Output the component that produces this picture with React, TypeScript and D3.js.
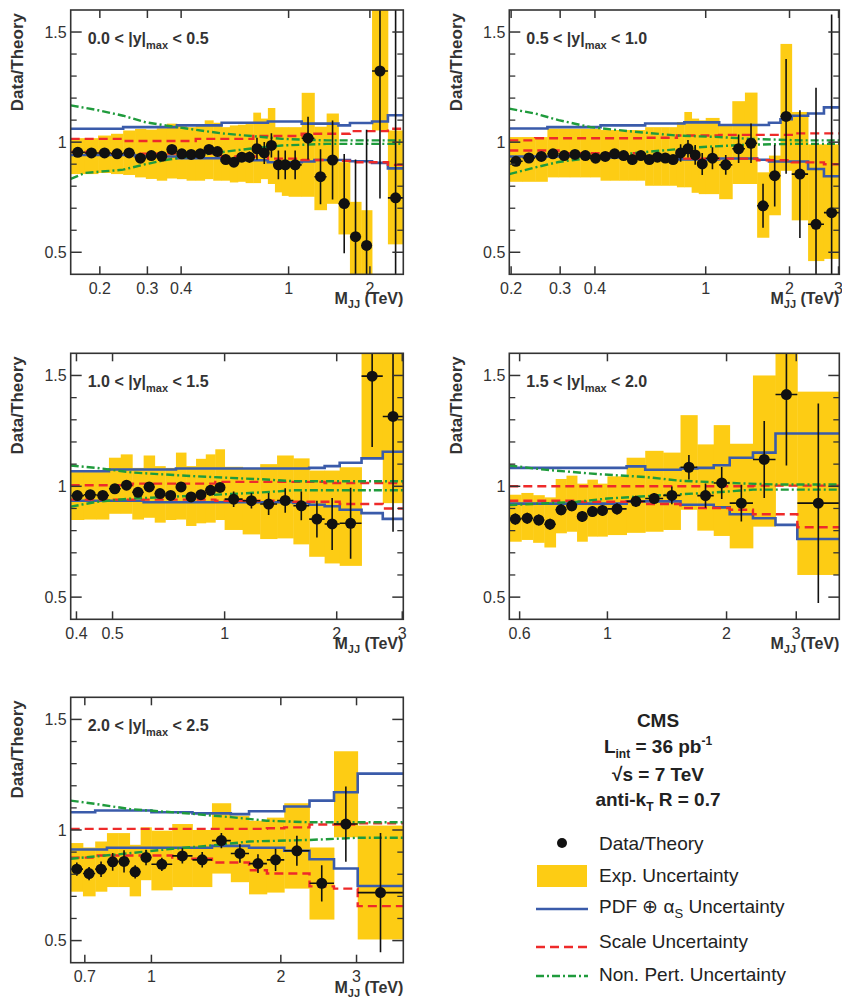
import React from "react";
import * as d3 from "d3";

type Knot = [number, number];

// ---------------- Panel 1: 0.0 < |y|max < 0.5 ----------------
const P1_edges = [0.156,0.176,0.197,0.220,0.244,0.270,0.296,0.325,0.354,0.386,0.419,0.453,0.489,0.526,0.565,0.606,0.649,0.693,0.740,0.788,0.838,0.890,0.944,1.000,1.118,1.246,1.383,1.530,1.687,1.856,2.037,2.332,2.659];
const P1_data = [0.954,0.951,0.951,0.947,0.951,0.927,0.939,0.936,0.967,0.947,0.944,0.947,0.967,0.957,0.921,0.909,0.932,0.932,0.970,0.951,0.985,0.897,0.897,0.897,1.018,0.843,0.919,0.721,0.571,0.531,1.323,0.747];
const P1_err = [0.01,0.01,0.01,0.01,0.01,0.01,0.01,0.01,0.012,0.012,0.012,0.015,0.015,0.015,0.018,0.02,0.02,0.025,0.05,0.05,0.055,0.065,0.065,0.065,0.097,0.125,0.179,0.225,0.35,0.525,0.579,0.9];
const P1_expLo = [0.855,0.855,0.86,0.855,0.851,0.84,0.833,0.825,0.835,0.832,0.825,0.825,0.832,0.825,0.825,0.817,0.82,0.814,0.814,0.832,0.81,0.772,0.756,0.752,0.752,0.691,0.72,0.581,0.35,0.35,1.053,0.536];
const P1_expHi = [1.018,1.018,1.03,1.038,1.053,1.06,1.057,1.063,1.084,1.076,1.068,1.078,1.099,1.088,1.068,1.076,1.079,1.082,1.134,1.107,1.155,1.068,1.068,1.068,1.224,1.07,1.13,0.909,0.729,0.691,1.7,1.053];
const P1_pdfHi: Knot[] = [[0.156,1.061],[0.244,1.068],[0.386,1.076],[0.565,1.088],[0.838,1.094],[1.118,1.084],[1.530,1.076],[1.687,1.087],[2.037,1.094],[2.332,1.122],[2.659,1.122]];
const P1_pdfLo: Knot[] = [[0.156,0.942],[0.270,0.935],[0.386,0.927],[0.565,0.918],[0.838,0.909],[1.118,0.912],[1.246,0.919],[1.687,0.913],[2.037,0.906],[2.332,0.881],[2.659,0.881]];
const P1_scaleHi: Knot[] = [[0.156,1.015],[0.244,1.005],[0.453,1.015],[0.740,1.028],[1.118,1.038],[1.687,1.05],[2.332,1.061],[2.659,1.061]];
const P1_scaleLo: Knot[] = [[0.156,0.955],[0.220,0.948],[0.565,0.935],[0.838,0.925],[1.118,0.919],[1.530,0.915],[1.687,0.909],[2.332,0.897],[2.659,0.897]];
const P1_npHi: Knot[] = [[0.156,1.167],[0.197,1.145],[0.244,1.12],[0.296,1.09],[0.354,1.075],[0.453,1.056],[0.565,1.04],[0.74,1.027],[0.944,1.015],[1.383,1.008],[2.659,1.008]];
const P1_npLo: Knot[] = [[0.156,0.833],[0.176,0.86],[0.244,0.875],[0.296,0.9],[0.354,0.92],[0.453,0.94],[0.565,0.955],[0.74,0.972],[0.944,0.985],[1.383,0.992],[2.659,0.992]];
const P1_ticks = [0.2,0.3,0.4,1,2];

// ---------------- Panel 2: 0.5 < |y|max < 1.0 ----------------
const P2_edges = [0.197,0.220,0.244,0.270,0.296,0.325,0.354,0.386,0.419,0.453,0.489,0.526,0.565,0.606,0.649,0.693,0.740,0.788,0.838,0.890,0.944,1.000,1.118,1.246,1.383,1.530,1.687,1.856,2.037,2.332,2.659,3.019];
const P2_data = [0.913,0.928,0.935,0.947,0.939,0.944,0.939,0.927,0.935,0.947,0.939,0.921,0.939,0.921,0.932,0.928,0.921,0.951,0.970,0.942,0.901,0.927,0.897,0.970,0.995,0.711,0.848,1.117,0.855,0.627,0.68];
const P2_err = [0.015,0.015,0.015,0.015,0.015,0.015,0.015,0.015,0.015,0.015,0.015,0.015,0.015,0.015,0.015,0.015,0.015,0.04,0.04,0.045,0.05,0.05,0.045,0.065,0.09,0.1,0.14,0.26,0.29,0.62,0.9];
const P2_expLo = [0.82,0.82,0.82,0.84,0.84,0.84,0.84,0.84,0.825,0.825,0.825,0.825,0.825,0.802,0.802,0.802,0.802,0.795,0.795,0.77,0.764,0.764,0.741,0.81,0.81,0.566,0.668,0.87,0.645,0.46,0.47];
const P2_expHi = [1.023,1.023,1.023,1.061,1.061,1.061,1.061,1.061,1.055,1.055,1.055,1.055,1.055,1.068,1.068,1.068,1.068,1.091,1.137,1.107,1.099,1.11,1.079,1.186,1.225,0.863,0.939,1.446,1.137,0.99,0.99];
const P2_pdfHi: Knot[] = [[0.197,1.062],[0.270,1.068],[0.419,1.076],[0.606,1.085],[0.838,1.09],[1.118,1.078],[1.687,1.088],[1.856,1.104],[2.037,1.12],[2.332,1.13],[2.659,1.158],[3.019,1.158]];
const P2_pdfLo: Knot[] = [[0.197,0.935],[0.386,0.93],[0.740,0.922],[1.118,0.926],[1.53,0.92],[1.687,0.912],[2.332,0.878],[2.659,0.845],[3.019,0.845]];
const P2_scaleHi: Knot[] = [[0.197,1.008],[0.244,1.018],[0.606,1.02],[0.788,1.03],[1.118,1.033],[2.037,1.04],[3.019,1.04]];
const P2_scaleLo: Knot[] = [[0.197,0.962],[0.296,0.95],[0.565,0.935],[0.838,0.925],[1.53,0.918],[2.037,0.908],[2.659,0.9],[3.019,0.9]];
const P2_npHi: Knot[] = [[0.197,1.152],[0.244,1.13],[0.296,1.1],[0.386,1.068],[0.526,1.05],[0.788,1.03],[1.118,1.023],[1.455,1.015],[2.2,1.008],[3.019,1.008]];
const P2_npLo: Knot[] = [[0.197,0.855],[0.244,0.885],[0.296,0.91],[0.419,0.935],[0.606,0.955],[0.944,0.977],[1.383,0.988],[2.037,0.992],[3.019,0.992]];
const P2_ticks = [0.2,0.3,0.4,1,2,3];

// ---------------- Panel 3: 1.0 < |y|max < 1.5 ----------------
const P3_edges = [0.386,0.419,0.453,0.489,0.526,0.565,0.606,0.649,0.693,0.740,0.788,0.838,0.890,0.944,1.000,1.118,1.246,1.383,1.530,1.687,1.856,2.037,2.332,2.659,3.019];
const P3_data = [0.958,0.962,0.959,0.989,1.005,0.973,0.997,0.967,0.959,0.997,0.952,0.962,0.982,0.995,0.942,0.935,0.92,0.936,0.912,0.852,0.83,0.833,1.497,1.315];
const P3_err = [0.02,0.02,0.02,0.02,0.02,0.02,0.02,0.02,0.02,0.02,0.02,0.02,0.02,0.02,0.035,0.035,0.05,0.055,0.065,0.083,0.117,0.16,0.32,0.52];
const P3_expLo = [0.848,0.85,0.85,0.876,0.876,0.85,0.858,0.836,0.848,0.85,0.821,0.833,0.836,0.848,0.803,0.783,0.762,0.765,0.738,0.682,0.652,0.641,1.132,0.924];
const P3_expHi = [1.064,1.064,1.064,1.129,1.144,1.083,1.139,1.091,1.083,1.152,1.091,1.124,1.144,1.167,1.088,1.083,1.1,1.139,1.126,1.071,1.071,1.086,1.7,1.7];
const P3_pdfHi: Knot[] = [[0.386,1.068],[0.489,1.076],[0.740,1.08],[1.687,1.083],[1.856,1.091],[2.037,1.106],[2.332,1.126],[2.659,1.156],[3.019,1.156]];
const P3_pdfLo: Knot[] = [[0.386,0.935],[0.606,0.928],[1.53,0.925],[1.687,0.917],[1.856,0.91],[2.037,0.894],[2.332,0.879],[2.659,0.853],[3.019,0.853]];
const P3_scaleHi: Knot[] = [[0.386,1.005],[0.565,1.012],[0.944,1.02],[1.856,1.015],[3.019,1.015]];
const P3_scaleLo: Knot[] = [[0.386,0.94],[0.944,0.935],[1.53,0.93],[2.037,0.92],[2.659,0.9],[3.019,0.9]];
const P3_npHi: Knot[] = [[0.386,1.094],[0.453,1.083],[0.565,1.062],[0.838,1.045],[1.246,1.032],[1.53,1.023],[3.019,1.023]];
const P3_npLo: Knot[] = [[0.386,0.908],[0.453,0.93],[0.565,0.945],[0.838,0.958],[1.246,0.972],[1.53,0.982],[3.019,0.982]];
const P3_ticks = [0.4,0.5,1,2,3];

// ---------------- Panel 4: 1.5 < |y|max < 2.0 ----------------
const P4_edges = [0.565,0.606,0.649,0.693,0.740,0.788,0.838,0.890,0.944,1.000,1.118,1.246,1.383,1.530,1.687,1.856,2.037,2.332,2.659,3.019,3.854];
const P4_data = [0.852,0.856,0.848,0.829,0.894,0.912,0.864,0.886,0.891,0.898,0.932,0.945,0.959,1.086,0.958,1.015,0.924,1.121,1.414,0.924];
const P4_err = [0.025,0.025,0.025,0.025,0.025,0.025,0.025,0.025,0.025,0.025,0.025,0.025,0.04,0.055,0.055,0.072,0.083,0.174,0.32,0.45];
const P4_expLo = [0.75,0.758,0.745,0.724,0.788,0.795,0.75,0.773,0.773,0.78,0.79,0.795,0.803,0.894,0.8,0.776,0.72,0.818,1.0,0.6];
const P4_expHi = [0.962,0.97,0.96,0.95,1.033,1.048,1.012,1.03,1.012,1.045,1.129,1.16,1.152,1.321,1.189,1.276,1.192,1.5,1.7,1.427];
const P4_pdfHi: Knot[] = [[0.565,1.083],[1.0,1.083],[1.118,1.09],[1.246,1.075],[1.53,1.08],[1.687,1.083],[1.856,1.095],[2.037,1.129],[2.332,1.152],[2.659,1.238],[3.854,1.238]];
const P4_pdfLo: Knot[] = [[0.565,0.922],[1.118,0.932],[1.53,0.917],[1.856,0.905],[2.037,0.874],[2.332,0.856],[2.659,0.826],[3.019,0.762],[3.854,0.762]];
const P4_scaleHi: Knot[] = [[0.565,1.0],[1.53,1.0],[2.332,1.003],[3.854,1.003]];
const P4_scaleLo: Knot[] = [[0.565,0.935],[0.838,0.93],[1.246,0.92],[1.53,0.902],[2.037,0.894],[2.332,0.874],[3.019,0.815],[3.854,0.815]];
const P4_npHi: Knot[] = [[0.565,1.094],[0.693,1.075],[0.944,1.055],[1.246,1.042],[1.53,1.025],[2.037,1.015],[2.659,1.008],[3.854,1.008]];
const P4_npLo: Knot[] = [[0.565,0.915],[0.838,0.93],[1.0,0.945],[1.383,0.96],[1.856,0.972],[2.332,0.985],[3.854,0.985]];
const P4_ticks = [0.6,1,2,3];

// ---------------- Panel 5: 2.0 < |y|max < 2.5 ----------------
const P5_edges = [0.649,0.693,0.740,0.788,0.838,0.890,0.944,1.000,1.118,1.246,1.383,1.530,1.687,1.856,2.037,2.332,2.659,3.019,3.854];
const P5_data = [0.823,0.803,0.823,0.856,0.858,0.811,0.876,0.845,0.883,0.865,0.952,0.894,0.848,0.865,0.906,0.759,1.027,0.717];
const P5_err = [0.03,0.03,0.035,0.04,0.05,0.03,0.035,0.03,0.035,0.035,0.035,0.042,0.042,0.05,0.068,0.082,0.17,0.27];
const P5_expLo = [0.721,0.7,0.721,0.742,0.742,0.7,0.773,0.727,0.742,0.742,0.803,0.764,0.709,0.717,0.735,0.595,0.967,0.505];
const P5_expHi = [0.941,0.921,0.948,0.986,0.986,0.933,1.012,0.997,1.027,1.0,1.121,1.065,1.042,1.056,1.121,0.921,1.356,1.02];
const P5_pdfHi: Knot[] = [[0.649,1.08],[0.74,1.088],[1.0,1.08],[1.246,1.075],[1.53,1.072],[1.687,1.085],[2.037,1.106],[2.332,1.133],[2.659,1.171],[3.019,1.255],[3.854,1.255]];
const P5_pdfLo: Knot[] = [[0.649,0.912],[0.788,0.92],[1.383,0.928],[1.687,0.92],[2.037,0.906],[2.332,0.868],[2.659,0.826],[3.019,0.747],[3.854,0.747]];
const P5_scaleHi: Knot[] = [[0.649,1.005],[1.856,1.008],[2.037,1.012],[2.332,1.025],[3.019,1.03],[3.854,1.03]];
const P5_scaleLo: Knot[] = [[0.649,0.875],[0.74,0.885],[1.118,0.87],[1.383,0.853],[1.687,0.818],[1.856,0.803],[2.332,0.745],[2.659,0.735],[3.019,0.656],[3.854,0.656]];
const P5_npHi: Knot[] = [[0.649,1.133],[0.74,1.118],[0.89,1.095],[1.246,1.073],[1.53,1.058],[1.856,1.042],[2.332,1.035],[3.854,1.035]];
const P5_npLo: Knot[] = [[0.649,0.87],[0.838,0.89],[1.118,0.915],[1.383,0.93],[1.687,0.948],[2.332,0.955],[3.019,0.965],[3.854,0.965]];
const P5_ticks = [0.7,1,2,3];

const RAPIDITY_BINS = [["0.0", "0.5"], ["0.5", "1.0"], ["1.0", "1.5"], ["1.5", "2.0"], ["2.0", "2.5"]];
const Y_MAJOR = [0.5, 1, 1.5];
const Y_MINOR = [0.6, 0.7, 0.8, 0.9, 1.1, 1.2, 1.3, 1.4];
const Y_DOMAIN = [0.4, 1.6];

const LEGEND_HEADER = ["CMS"];
const LEGEND_ITEMS = ["Data/Theory", "Exp. Uncertainty", "PDF \u2295 \u03b1", "Scale Uncertainty", "Non. Pert. Uncertainty"];

// ---------------- styling ----------------
const FONT = "'Liberation Sans', Arial, Helvetica, sans-serif";
const YELLOW = "#FDCC14";
const BLUE = "#3A5BAA";
const RED = "#EE2A2A";
const GREEN = "#1F9B3C";
const FRAME = "#333";

interface PanelSpec {
  id: string;
  edges: number[]; data: number[]; err: number[]; expLo: number[]; expHi: number[];
  pdfHi: Knot[]; pdfLo: Knot[]; scaleHi: Knot[]; scaleLo: Knot[]; npHi: Knot[]; npLo: Knot[];
  ticks: number[]; label: string[];
  x0: number; x1: number; y0: number; y1: number; titleX: number;
}

const LX0 = 70.7, LX1 = 403.3, RX0 = 509.3, RX1 = 839.3;
const ROWS = [[10, 274.3], [353.3, 619.3], [697.3, 962.7]];

const panels: PanelSpec[] = [
  { id: "p1", edges: P1_edges, data: P1_data, err: P1_err, expLo: P1_expLo, expHi: P1_expHi, pdfHi: P1_pdfHi, pdfLo: P1_pdfLo, scaleHi: P1_scaleHi, scaleLo: P1_scaleLo, npHi: P1_npHi, npLo: P1_npLo, ticks: P1_ticks, label: RAPIDITY_BINS[0], x0: LX0, x1: LX1, y0: ROWS[0][0], y1: ROWS[0][1], titleX: 23 },
  { id: "p2", edges: P2_edges, data: P2_data, err: P2_err, expLo: P2_expLo, expHi: P2_expHi, pdfHi: P2_pdfHi, pdfLo: P2_pdfLo, scaleHi: P2_scaleHi, scaleLo: P2_scaleLo, npHi: P2_npHi, npLo: P2_npLo, ticks: P2_ticks, label: RAPIDITY_BINS[1], x0: RX0, x1: RX1, y0: ROWS[0][0], y1: ROWS[0][1], titleX: 462 },
  { id: "p3", edges: P3_edges, data: P3_data, err: P3_err, expLo: P3_expLo, expHi: P3_expHi, pdfHi: P3_pdfHi, pdfLo: P3_pdfLo, scaleHi: P3_scaleHi, scaleLo: P3_scaleLo, npHi: P3_npHi, npLo: P3_npLo, ticks: P3_ticks, label: RAPIDITY_BINS[2], x0: LX0, x1: LX1, y0: ROWS[1][0], y1: ROWS[1][1], titleX: 23 },
  { id: "p4", edges: P4_edges, data: P4_data, err: P4_err, expLo: P4_expLo, expHi: P4_expHi, pdfHi: P4_pdfHi, pdfLo: P4_pdfLo, scaleHi: P4_scaleHi, scaleLo: P4_scaleLo, npHi: P4_npHi, npLo: P4_npLo, ticks: P4_ticks, label: RAPIDITY_BINS[3], x0: RX0, x1: RX1, y0: ROWS[1][0], y1: ROWS[1][1], titleX: 462 },
  { id: "p5", edges: P5_edges, data: P5_data, err: P5_err, expLo: P5_expLo, expHi: P5_expHi, pdfHi: P5_pdfHi, pdfLo: P5_pdfLo, scaleHi: P5_scaleHi, scaleLo: P5_scaleLo, npHi: P5_npHi, npLo: P5_npLo, ticks: P5_ticks, label: RAPIDITY_BINS[4], x0: LX0, x1: LX1, y0: ROWS[2][0], y1: ROWS[2][1], titleX: 23 },
];

function Panel({ s }: { s: PanelSpec }) {
  const x = d3.scaleLog().domain([s.edges[0], s.edges[s.edges.length - 1]]).range([s.x0, s.x1]);
  const y = d3.scaleLinear().domain(Y_DOMAIN).range([s.y1, s.y0]);
  const step = d3.line<Knot>().x(d => x(d[0])).y(d => y(d[1])).curve(d3.curveStepAfter);
  const lin = d3.line<Knot>().x(d => x(d[0])).y(d => y(d[1]));
  const clipId = `clip-${s.id}`;
  const bins = s.data.map((v, i) => ({ a: s.edges[i], b: s.edges[i + 1], v, e: s.err[i], lo: s.expLo[i], hi: s.expHi[i] }));
  return (
    <g>
      <defs>
        <clipPath id={clipId}>
          <rect x={s.x0} y={s.y0} width={s.x1 - s.x0} height={s.y1 - s.y0} />
        </clipPath>
      </defs>
      <g clipPath={`url(#${clipId})`}>
        {bins.map((b, i) => (
          <rect key={`e${i}`} x={x(b.a)} width={x(b.b) - x(b.a) + 0.4} y={y(b.hi)} height={y(b.lo) - y(b.hi)} fill={YELLOW} />
        ))}
        <path d={step(s.pdfHi) || ""} fill="none" stroke={BLUE} strokeWidth={2.6} />
        <path d={step(s.pdfLo) || ""} fill="none" stroke={BLUE} strokeWidth={2.6} />
        <path d={step(s.scaleHi) || ""} fill="none" stroke={RED} strokeWidth={2.4} strokeDasharray="9,5" />
        <path d={step(s.scaleLo) || ""} fill="none" stroke={RED} strokeWidth={2.4} strokeDasharray="9,5" />
        <path d={lin(s.npHi) || ""} fill="none" stroke={GREEN} strokeWidth={2.4} strokeDasharray="8,3,2,3" />
        <path d={lin(s.npLo) || ""} fill="none" stroke={GREEN} strokeWidth={2.4} strokeDasharray="8,3,2,3" />
        {bins.map((b, i) => {
          const cx = x(Math.sqrt(b.a * b.b));
          const cy = y(b.v);
          return (
            <g key={`d${i}`}>
              <line x1={x(b.a)} x2={x(b.b)} y1={cy} y2={cy} stroke="#111" strokeWidth={1.6} />
              <line x1={cx} x2={cx} y1={y(b.v + b.e)} y2={y(b.v - b.e)} stroke="#111" strokeWidth={1.6} />
              <circle cx={cx} cy={cy} r={5.5} fill="#111" />
            </g>
          );
        })}
      </g>
      <rect x={s.x0} y={s.y0} width={s.x1 - s.x0} height={s.y1 - s.y0} fill="none" stroke={FRAME} strokeWidth={1.6} />
      {Y_MAJOR.map(v => (
        <g key={`ym${v}`}>
          <line x1={s.x0} x2={s.x0 + 11} y1={y(v)} y2={y(v)} stroke={FRAME} strokeWidth={1.5} />
          <line x1={s.x1} x2={s.x1 - 11} y1={y(v)} y2={y(v)} stroke={FRAME} strokeWidth={1.5} />
          <text x={s.x0 - 4} y={y(v)} dy="0.36em" textAnchor="end" fontSize={16} fill="#333" fontFamily={FONT}>{String(v)}</text>
        </g>
      ))}
      {Y_MINOR.map(v => (
        <g key={`yn${v}`}>
          <line x1={s.x0} x2={s.x0 + 6} y1={y(v)} y2={y(v)} stroke={FRAME} strokeWidth={1.3} />
          <line x1={s.x1} x2={s.x1 - 6} y1={y(v)} y2={y(v)} stroke={FRAME} strokeWidth={1.3} />
        </g>
      ))}
      {s.ticks.map(t => (
        <g key={`xt${t}`}>
          <line x1={x(t)} x2={x(t)} y1={s.y1} y2={s.y1 - 8} stroke={FRAME} strokeWidth={1.5} />
          <line x1={x(t)} x2={x(t)} y1={s.y0} y2={s.y0 + 8} stroke={FRAME} strokeWidth={1.5} />
          <text x={x(t)} y={s.y1 + 19.5} textAnchor="middle" fontSize={16} fill="#333" fontFamily={FONT}>{String(t)}</text>
        </g>
      ))}
      <text transform={`translate(${s.titleX},${s.y0 + 3}) rotate(-90)`} textAnchor="end" fontSize={17} fontWeight="bold" fill="#333" fontFamily={FONT}>Data/Theory</text>
      <text x={s.x1} y={s.y1 + 30} textAnchor="end" fontSize={16} fontWeight="bold" fill="#333" fontFamily={FONT}>
        <tspan>M</tspan>
        <tspan fontSize={11} dy={4}>JJ</tspan>
        <tspan dy={-4}>{" (TeV)"}</tspan>
      </text>
      <text x={s.x0 + 17} y={s.y0 + 34} fontSize={16} fontWeight="bold" fill="#333" fontFamily={FONT}>
        <tspan>{`${s.label[0]} < |y|`}</tspan>
        <tspan fontSize={11} dy={5}>max</tspan>
        <tspan dy={-5}>{` < ${s.label[1]}`}</tspan>
      </text>
    </g>
  );
}

function Legend() {
  const cx = 658;
  const tx = 599;
  const sx0 = 536, sx1 = 588;
  const common = { fontFamily: FONT, fill: "#222" } as const;
  return (
    <g>
      <text x={cx} y={727} textAnchor="middle" fontSize={19} fontWeight="bold" {...common}>{LEGEND_HEADER[0]}</text>
      <text x={cx} y={753} textAnchor="middle" fontSize={19} fontWeight="bold" {...common}>
        <tspan>L</tspan>
        <tspan fontSize={12} dy={5}>int</tspan>
        <tspan dy={-5}>{" = 36 pb"}</tspan>
        <tspan fontSize={12} dy={-8}>-1</tspan>
      </text>
      <text x={cx} y={781} textAnchor="middle" fontSize={19} fontWeight="bold" {...common}>{"\u221As = 7 TeV"}</text>
      <text x={cx} y={806} textAnchor="middle" fontSize={19} fontWeight="bold" {...common}>
        <tspan>anti-k</tspan>
        <tspan fontSize={12} dy={5}>T</tspan>
        <tspan dy={-5}>{" R = 0.7"}</tspan>
      </text>

      <circle cx={562} cy={843} r={5} fill="#111" />
      <text x={tx} y={850} fontSize={19} {...common}>{LEGEND_ITEMS[0]}</text>

      <rect x={537} y={865} width={50} height={22} fill={YELLOW} />
      <text x={tx} y={881.5} fontSize={19} {...common}>{LEGEND_ITEMS[1]}</text>

      <line x1={sx0} x2={sx1} y1={909} y2={909} stroke={BLUE} strokeWidth={2.6} />
      <text x={tx} y={912.5} fontSize={19} {...common}>
        <tspan>{LEGEND_ITEMS[2]}</tspan>
        <tspan fontSize={13} dy={5}>S</tspan>
        <tspan dy={-5}>{" Uncertainty"}</tspan>
      </text>

      <line x1={sx0} x2={sx1} y1={947} y2={947} stroke={RED} strokeWidth={2.4} strokeDasharray="9,5" />
      <text x={tx} y={947.5} fontSize={19} {...common}>{LEGEND_ITEMS[3]}</text>

      <line x1={sx0} x2={sx1} y1={976} y2={976} stroke={GREEN} strokeWidth={2.4} strokeDasharray="8,3,2,3" />
      <text x={tx} y={980.5} fontSize={19} {...common}>{LEGEND_ITEMS[4]}</text>
    </g>
  );
}

export default function App() {
  return (
    <svg width={842} height={997} viewBox="0 0 842 997" style={{ position: "absolute", left: 0, top: 0, display: "block", background: "#fff" }}>
      <rect x={0} y={0} width={842} height={997} fill="#fff" />
      {panels.map(p => <Panel key={p.id} s={p} />)}
      <Legend />
    </svg>
  );
}
